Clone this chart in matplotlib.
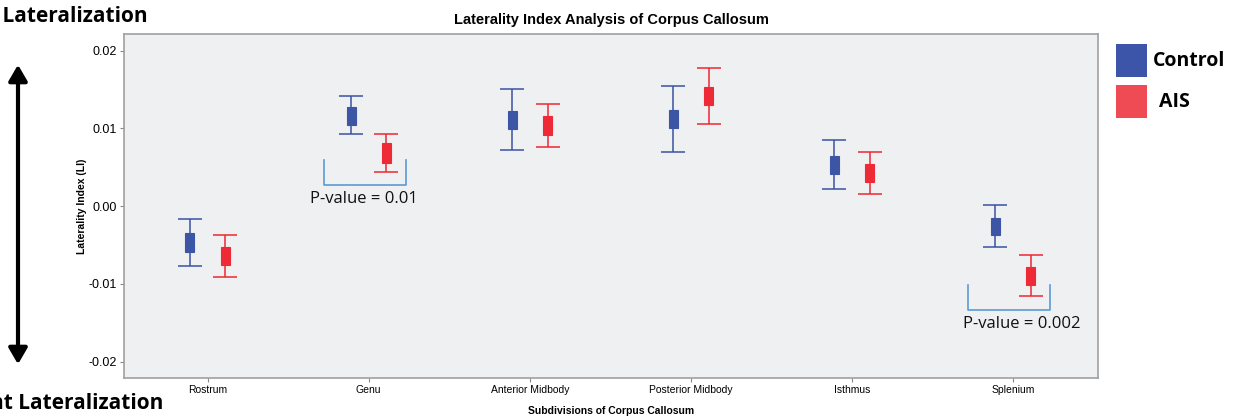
import numpy as np
import matplotlib
matplotlib.use("Agg")
import matplotlib.pyplot as plt
from matplotlib.patches import Rectangle, FancyArrowPatch

# ---- data ----
regions = ["Rostrum", "Genu", "Anterior Midbody", "Posterior Midbody", "Isthmus", "Splenium"]

# whisker ends (CI) and box ends, per group
ctrl_lo  = [-0.0077, 0.0093, 0.0072, 0.0070, 0.0022, -0.0053]
ctrl_blo = [-0.0059, 0.0104, 0.0099, 0.0100, 0.0041, -0.0037]
ctrl_bhi = [-0.0035, 0.0128, 0.0122, 0.0124, 0.0065, -0.0015]
ctrl_hi  = [-0.0016, 0.0141, 0.0150, 0.0155, 0.0085, 0.0001]

ais_lo  = [-0.0091, 0.0044, 0.0076, 0.0105, 0.0016, -0.0116]
ais_blo = [-0.0076, 0.0056, 0.0092, 0.0130, 0.0031, -0.0102]
ais_bhi = [-0.0052, 0.0081, 0.0116, 0.0153, 0.0054, -0.0078]
ais_hi  = [-0.0037, 0.0093, 0.0131, 0.0178, 0.0069, -0.0063]

pvals = {1: "P-value = 0.01", 5: "P-value = 0.002"}

C_BLUE = "#3c55a5"
C_RED = "#ee2a36"
C_BRACKET = "#5b9bd5"

fig = plt.figure(figsize=(12.42, 4.17), dpi=100)
ax = fig.add_axes([0.0998, 0.0935, 0.7845, 0.8245])
ax.set_facecolor("#eff0f2")

x = np.arange(len(regions))
off = 0.11
bw = 0.056

for xs, lo, blo, bhi, hi, col in [(x - off, ctrl_lo, ctrl_blo, ctrl_bhi, ctrl_hi, C_BLUE),
                                  (x + off, ais_lo, ais_blo, ais_bhi, ais_hi, C_RED)]:
    lo, blo, bhi, hi = map(np.asarray, (lo, blo, bhi, hi))
    mid = (blo + bhi) / 2
    ax.errorbar(xs, mid, yerr=[mid - lo, hi - mid], fmt="none", ecolor=col,
                elinewidth=1.4, capsize=8.3, capthick=1.4, alpha=0.8, zorder=2)
    ax.bar(xs, bhi - blo, bottom=blo, width=bw, color=col, edgecolor=col,
           linewidth=0.8, zorder=3)

# significance brackets
for i, label in pvals.items():
    lowest = min(ctrl_lo[i], ais_lo[i])
    top = lowest + 0.0015
    bot = top - 0.0032
    ax.plot([i - 0.28, i - 0.28, i + 0.23, i + 0.23], [top, bot, bot, top],
            color=C_BRACKET, lw=1.2, zorder=1)
    ax.text(i + (0.055 if i == 5 else -0.03), bot - 0.0018, label, ha="center", va="center",
            fontsize=12, family="Open Sans", color="#111111")

ax.set_xlim(-0.52, 5.53)
ax.set_ylim(-0.0221, 0.0221)
ax.set_xticks(x)
ax.set_xticklabels(regions, fontsize=7.5, family="Liberation Sans")
ax.set_yticks([0.02, 0.01, 0.0, -0.01, -0.02])
ax.set_yticklabels(["0.02", "0.01", "0.00", "-0.01", "-0.02"], fontsize=9, family="Liberation Sans")
ax.tick_params(length=3, width=0.8, color="#888888", pad=2)
for s in ax.spines.values():
    s.set_color("#a0a0a0")
    s.set_linewidth(1.2)

ax.set_title("Laterality Index Analysis of Corpus Callosum", fontsize=10.5, fontweight="bold",
             family="Liberation Sans", pad=7)
ax.set_ylabel("Laterality Index (LI)", fontsize=7.5, fontweight="bold", family="Liberation Sans",
              labelpad=1)
ax.set_xlabel("Subdivisions of Corpus Callosum", fontsize=7.5, fontweight="bold",
              family="Liberation Sans", labelpad=8)

# left side: lateralization arrow and labels (cropped at the left edge, as in the source)
fig.text(148 / 1242, 1 - 17 / 417, "Left Lateralization", ha="right", va="center", fontsize=15,
         fontweight="bold", family="Open Sans")
fig.text(163 / 1242, 1 - 403 / 417, "Right Lateralization", ha="right", va="center", fontsize=15,
         fontweight="bold", family="Open Sans")
fig.patches.append(FancyArrowPatch(
    (18 / 1242, 1 - 62 / 417), (18 / 1242, 1 - 367 / 417), transform=fig.transFigure,
    arrowstyle="<|-|>,head_length=6,head_width=3.5", mutation_scale=1.6, lw=3, color="black"))

# legend
for j, (lab, col, dx) in enumerate([("Control", "#3c55a8", 0), ("AIS", "#ee4b55", 6)]):
    yb = 1 - (77 + j * 41) / 417
    fig.patches.append(Rectangle((1116 / 1242, yb), 31 / 1242, 33 / 417, transform=fig.transFigure,
                                 facecolor=col, edgecolor="none"))
    fig.text((1153 + dx) / 1242, yb + 16 / 417, lab, ha="left", va="center", fontsize=14,
             fontweight="bold", family="Open Sans")

fig.savefig("out.png", dpi=100)
